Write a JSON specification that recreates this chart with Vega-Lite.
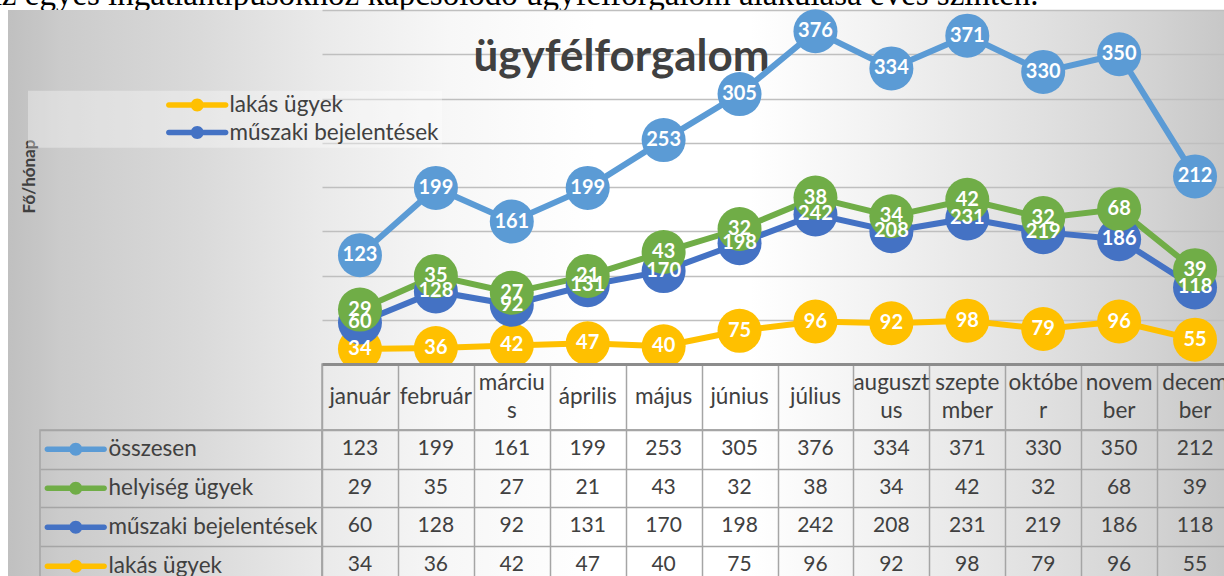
{
  "$schema": "https://vega.github.io/schema/vega-lite/v6.json",
  "padding": 0,
  "background": "white",
  "config": {"view": {"stroke": null}, "font": "Lato"},
  "datasets": {
    "adat": [
      {"honap": "január", "sorozat": "lakás ügyek", "ertek": 34},
      {"honap": "február", "sorozat": "lakás ügyek", "ertek": 36},
      {"honap": "március", "sorozat": "lakás ügyek", "ertek": 42},
      {"honap": "április", "sorozat": "lakás ügyek", "ertek": 47},
      {"honap": "május", "sorozat": "lakás ügyek", "ertek": 40},
      {"honap": "június", "sorozat": "lakás ügyek", "ertek": 75},
      {"honap": "július", "sorozat": "lakás ügyek", "ertek": 96},
      {"honap": "augusztus", "sorozat": "lakás ügyek", "ertek": 92},
      {"honap": "szeptember", "sorozat": "lakás ügyek", "ertek": 98},
      {"honap": "október", "sorozat": "lakás ügyek", "ertek": 79},
      {"honap": "november", "sorozat": "lakás ügyek", "ertek": 96},
      {"honap": "december", "sorozat": "lakás ügyek", "ertek": 55},
      {"honap": "január", "sorozat": "műszaki bejelentések", "ertek": 60},
      {"honap": "február", "sorozat": "műszaki bejelentések", "ertek": 128},
      {"honap": "március", "sorozat": "műszaki bejelentések", "ertek": 92},
      {"honap": "április", "sorozat": "műszaki bejelentések", "ertek": 131},
      {"honap": "május", "sorozat": "műszaki bejelentések", "ertek": 170},
      {"honap": "június", "sorozat": "műszaki bejelentések", "ertek": 198},
      {"honap": "július", "sorozat": "műszaki bejelentések", "ertek": 242},
      {"honap": "augusztus", "sorozat": "műszaki bejelentések", "ertek": 208},
      {"honap": "szeptember", "sorozat": "műszaki bejelentések", "ertek": 231},
      {"honap": "október", "sorozat": "műszaki bejelentések", "ertek": 219},
      {"honap": "november", "sorozat": "műszaki bejelentések", "ertek": 186},
      {"honap": "december", "sorozat": "műszaki bejelentések", "ertek": 118},
      {"honap": "január", "sorozat": "helyiség ügyek", "ertek": 29},
      {"honap": "február", "sorozat": "helyiség ügyek", "ertek": 35},
      {"honap": "március", "sorozat": "helyiség ügyek", "ertek": 27},
      {"honap": "április", "sorozat": "helyiség ügyek", "ertek": 21},
      {"honap": "május", "sorozat": "helyiség ügyek", "ertek": 43},
      {"honap": "június", "sorozat": "helyiség ügyek", "ertek": 32},
      {"honap": "július", "sorozat": "helyiség ügyek", "ertek": 38},
      {"honap": "augusztus", "sorozat": "helyiség ügyek", "ertek": 34},
      {"honap": "szeptember", "sorozat": "helyiség ügyek", "ertek": 42},
      {"honap": "október", "sorozat": "helyiség ügyek", "ertek": 32},
      {"honap": "november", "sorozat": "helyiség ügyek", "ertek": 68},
      {"honap": "december", "sorozat": "helyiség ügyek", "ertek": 39},
      {"honap": "január", "sorozat": "összesen", "ertek": 123},
      {"honap": "február", "sorozat": "összesen", "ertek": 199},
      {"honap": "március", "sorozat": "összesen", "ertek": 161},
      {"honap": "április", "sorozat": "összesen", "ertek": 199},
      {"honap": "május", "sorozat": "összesen", "ertek": 253},
      {"honap": "június", "sorozat": "összesen", "ertek": 305},
      {"honap": "július", "sorozat": "összesen", "ertek": 376},
      {"honap": "augusztus", "sorozat": "összesen", "ertek": 334},
      {"honap": "szeptember", "sorozat": "összesen", "ertek": 371},
      {"honap": "október", "sorozat": "összesen", "ertek": 330},
      {"honap": "november", "sorozat": "összesen", "ertek": 350},
      {"honap": "december", "sorozat": "összesen", "ertek": 212}
    ],
    "felirat": [{"szoveg": "Az egyes ingatlantípusokhoz kapcsolódó ügyfélforgalom alakulása éves szinten."}],
    "ures": [{}]
  },
  "resolve": {"legend": {"color": "independent"}},
  "columns": 4,
  "align": "each",
  "spacing": 0,
  "bounds": "flush",
  "concat": [
    {"width": 8, "height": 10, "view": {"fill": "white"}, "data": {"name": "felirat"}, "mark": {"type": "text", "clip": true, "align": "left", "baseline": "alphabetic", "font": "Liberation Serif", "fontSize": 33, "color": "black", "dx": -26}, "encoding": {"text": {"field": "szoveg", "type": "nominal"}}},
    {"width": 32, "height": 10, "view": {"fill": "white"}, "data": {"name": "felirat"}, "mark": {"type": "text", "clip": true, "align": "left", "baseline": "alphabetic", "font": "Liberation Serif", "fontSize": 33, "color": "black", "dx": -46}, "encoding": {"text": {"field": "szoveg", "type": "nominal"}}},
    {"width": 282, "height": 10, "view": {"fill": "white"}, "data": {"name": "felirat"}, "mark": {"type": "text", "clip": true, "align": "left", "baseline": "alphabetic", "font": "Liberation Serif", "fontSize": 33, "color": "black", "dx": -203}, "encoding": {"text": {"field": "szoveg", "type": "nominal"}}},
    {"width": 911, "height": 10, "view": {"fill": "white"}, "data": {"name": "felirat"}, "mark": {"type": "text", "clip": true, "align": "left", "baseline": "alphabetic", "font": "Liberation Serif", "fontSize": 33, "color": "black", "dx": -799.5}, "encoding": {"text": {"field": "szoveg", "type": "nominal"}}},

    {"width": 8, "height": 354, "view": {"fill": "white"}, "data": {"name": "ures"}, "mark": {"type": "point", "opacity": 0}},
    {"width": 32, "height": 354, "view": {"fill": {"gradient": "linear", "x1": 0, "y1": 0, "x2": 1, "y2": 0, "stops": [{"offset": 0, "color": "#c0c0c0"}, {"offset": 1, "color": "#c6c6c6"}]}}, "data": {"name": "ures"}, "mark": {"type": "point", "opacity": 0}},
    {"width": 282, "height": 354, "view": {"fill": {"gradient": "linear", "x1": 0, "y1": 0, "x2": 1, "y2": 0, "stops": [{"offset": 0, "color": "#c6c6c6"}, {"offset": 0.07, "color": "#cbcbcb"}, {"offset": 0.57, "color": "#dadada"}, {"offset": 1, "color": "#eaeaea"}]}}, "data": {"name": "ures"}, "mark": {"type": "point", "opacity": 0}},
    {
      "width": 911, "height": 354,
      "view": {"fill": {"gradient": "linear", "x1": 0, "y1": 0, "x2": 1, "y2": 0, "stops": [{"offset": 0, "color": "#eaeaea"}, {"offset": 0.14, "color": "#f7f7f7"}, {"offset": 0.3, "color": "#ffffff"}, {"offset": 0.47, "color": "#ffffff"}, {"offset": 0.63, "color": "#f0f0f0"}, {"offset": 0.8, "color": "#dfdfdf"}, {"offset": 0.91, "color": "#d3d3d3"}, {"offset": 1, "color": "#c6c6c6"}]}},
      "data": {"name": "adat"},
      "transform": [
        {"calculate": "indexof(['lakás ügyek','műszaki bejelentések','helyiség ügyek','összesen'], datum.sorozat)", "as": "rend"},
        {"stack": "ertek", "groupby": ["honap"], "sort": [{"field": "rend", "order": "ascending"}], "as": ["also", "felso"]}
      ],
      "encoding": {
        "x": {"field": "honap", "type": "ordinal", "sort": ["január", "február", "március", "április", "május", "június", "július", "augusztus", "szeptember", "október", "november", "december"], "axis": {"orient": "top", "labels": false, "ticks": false, "domain": false, "grid": false, "title": "ügyfélforgalom", "titleX": 151, "titleY": 60.7, "titleAlign": "left", "titleBaseline": "alphabetic", "titleFont": "Lato", "titleFontSize": 44, "titleFontWeight": "bold", "titleColor": "#404040"}},
        "y": {"field": "felso", "type": "quantitative", "scale": {"domain": [0, 800], "nice": false}, "axis": {"values": [100, 200, 300, 400, 500, 600, 700, 800], "grid": true, "gridColor": "#bfbfbf", "gridWidth": 1.5, "labels": false, "ticks": false, "domain": false, "title": "Fő/hónap", "titleX": -293, "titleY": 166, "titleAngle": -90, "titleAlign": "center", "titleBaseline": "middle", "titleFont": "Lato", "titleFontSize": 17, "titleFontWeight": "bold", "titleColor": "#404040"}}
      },
      "layer": [
        {
          "mark": {"type": "line", "strokeWidth": 6},
          "encoding": {"stroke": {"field": "sorozat", "type": "nominal", "scale": {"domain": ["összesen", "helyiség ügyek", "műszaki bejelentések", "lakás ügyek"], "range": ["#5b9bd5", "#70ad47", "#4472c4", "#ffc000"]}, "legend": null}}
        },
        {
          "mark": {"type": "point", "filled": true, "size": 1936, "opacity": 1, "strokeWidth": 0},
          "encoding": {"color": {"field": "sorozat", "type": "nominal", "scale": {"domain": ["összesen", "helyiség ügyek", "műszaki bejelentések", "lakás ügyek"], "range": ["#5b9bd5", "#70ad47", "#4472c4", "#ffc000"]},
            "legend": {"orient": "none", "legendX": -294, "legendY": 80.75, "direction": "vertical", "values": ["lakás ügyek", "műszaki bejelentések"], "title": "\u00a0", "titleOrient": "left", "titleFontSize": 1, "titlePadding": 155, "fillColor": "rgba(255,255,255,0.35)", "padding": 3, "symbolType": "M-2.85,-0.27H2.85A0.27,0.27,0,0,1,2.85,0.27H-2.85A0.27,0.27,0,0,1,-2.85,-0.27ZM-0.65,0A0.65,0.65,0,1,1,0.65,0A0.65,0.65,0,1,1,-0.65,0Z", "symbolSize": 400, "symbolStrokeWidth": 0, "symbolOpacity": 1, "labelOffset": 21, "rowPadding": 4.5, "labelFont": "Lato", "labelFontSize": 22.5, "labelColor": "#404040", "labelLimit": 600}}}
        },
        {
          "mark": {"type": "text", "color": "white", "fontWeight": "bold", "fontSize": 20, "font": "Lato"},
          "encoding": {"text": {"field": "ertek", "type": "quantitative"}}
        }
      ]
    },

    {"width": 8, "height": 66, "view": {"fill": "white"}, "data": {"name": "ures"}, "mark": {"type": "point", "opacity": 0}},
    {"width": 32, "height": 66, "view": {"fill": {"gradient": "linear", "x1": 0, "y1": 0, "x2": 1, "y2": 0, "stops": [{"offset": 0, "color": "#c0c0c0"}, {"offset": 1, "color": "#c6c6c6"}]}}, "data": {"name": "ures"}, "mark": {"type": "point", "opacity": 0}},
    {"width": 282, "height": 66, "view": {"fill": {"gradient": "linear", "x1": 0, "y1": 0, "x2": 1, "y2": 0, "stops": [{"offset": 0, "color": "#c6c6c6"}, {"offset": 0.07, "color": "#cbcbcb"}, {"offset": 0.57, "color": "#dadada"}, {"offset": 1, "color": "#eaeaea"}]}}, "data": {"name": "ures"}, "mark": {"type": "point", "opacity": 0}},
    {
      "width": 911, "height": 66,
      "view": {"stroke": "#a5a5a5", "strokeWidth": 1.5, "fill": {"gradient": "linear", "x1": 0, "y1": 0, "x2": 1, "y2": 0, "stops": [{"offset": 0, "color": "#eaeaea"}, {"offset": 0.14, "color": "#f7f7f7"}, {"offset": 0.3, "color": "#ffffff"}, {"offset": 0.47, "color": "#ffffff"}, {"offset": 0.63, "color": "#f0f0f0"}, {"offset": 0.8, "color": "#dfdfdf"}, {"offset": 0.91, "color": "#d3d3d3"}, {"offset": 1, "color": "#c6c6c6"}]}},
      "data": {"name": "adat"},
      "transform": [
        {"filter": "datum.sorozat === 'összesen'"},
        {"calculate": "datum.honap === 'március' ? 'márciu|s' : datum.honap === 'augusztus' ? 'auguszt|us' : datum.honap === 'szeptember' ? 'szepte|mber' : datum.honap === 'október' ? 'októbe|r' : datum.honap === 'november' ? 'novem|ber' : datum.honap === 'december' ? 'decem|ber' : datum.honap", "as": "felirat"}
      ],
      "encoding": {
        "x": {"field": "honap", "type": "ordinal", "sort": ["január", "február", "március", "április", "május", "június", "július", "augusztus", "szeptember", "október", "november", "december"], "scale": {"type": "band", "paddingInner": 0, "paddingOuter": 0}, "axis": {"orient": "top", "title": null, "labels": false, "ticks": false, "domain": true, "domainColor": "#8c8c8c", "domainWidth": 3, "grid": true, "gridColor": "#a5a5a5", "gridWidth": 1.5, "tickBand": "extent"}},
        "text": {"field": "felirat", "type": "nominal"}
      },
      "layer": [
        {"transform": [{"filter": "indexof(datum.felirat, '|') < 0"}], "mark": {"type": "text", "fontSize": 22.5, "color": "#404040", "font": "Lato"}},
        {"transform": [{"filter": "indexof(datum.felirat, '|') >= 0"}], "mark": {"type": "text", "lineBreak": "|", "lineHeight": 28, "dy": -14, "fontSize": 22.5, "color": "#404040", "font": "Lato"}}
      ]
    },

    {"width": 8, "height": 154, "view": {"fill": "white"}, "data": {"name": "ures"}, "mark": {"type": "point", "opacity": 0}},
    {"width": 32, "height": 154, "view": {"fill": {"gradient": "linear", "x1": 0, "y1": 0, "x2": 1, "y2": 0, "stops": [{"offset": 0, "color": "#c0c0c0"}, {"offset": 1, "color": "#c6c6c6"}]}}, "data": {"name": "ures"}, "mark": {"type": "point", "opacity": 0}},
    {
      "width": 282, "height": 154,
      "view": {"stroke": "#a5a5a5", "strokeWidth": 1.5, "fill": {"gradient": "linear", "x1": 0, "y1": 0, "x2": 1, "y2": 0, "stops": [{"offset": 0, "color": "#c6c6c6"}, {"offset": 0.07, "color": "#cbcbcb"}, {"offset": 0.57, "color": "#dadada"}, {"offset": 1, "color": "#eaeaea"}]}},
      "data": {"name": "adat"},
      "mark": {"type": "point", "filled": true, "opacity": 0},
      "encoding": {
        "y": {"field": "sorozat", "type": "nominal", "sort": ["összesen", "helyiség ügyek", "műszaki bejelentések", "lakás ügyek"], "scale": {"type": "band", "paddingInner": 0, "paddingOuter": 0}, "axis": {"title": null, "labels": false, "ticks": false, "domain": false, "grid": true, "gridColor": "#a5a5a5", "gridWidth": 1.5, "tickBand": "extent"}},
        "color": {"field": "sorozat", "type": "nominal", "scale": {"domain": ["összesen", "helyiség ügyek", "műszaki bejelentések", "lakás ügyek"], "range": ["#5b9bd5", "#70ad47", "#4472c4", "#ffc000"]},
          "legend": {"orient": "none", "legendX": 24.5, "legendY": 8, "direction": "vertical", "padding": 0, "title": null, "symbolType": "M-2.85,-0.27H2.85A0.27,0.27,0,0,1,2.85,0.27H-2.85A0.27,0.27,0,0,1,-2.85,-0.27ZM-0.65,0A0.65,0.65,0,1,1,0.65,0A0.65,0.65,0,1,1,-0.65,0Z", "symbolSize": 400, "symbolStrokeWidth": 0, "symbolOpacity": 1, "labelOffset": 21.5, "rowPadding": 16, "labelFont": "Lato", "labelFontSize": 22.5, "labelColor": "#404040", "labelLimit": 300}}
      }
    },
    {
      "width": 911, "height": 154,
      "view": {"stroke": "#a5a5a5", "strokeWidth": 1.5, "fill": {"gradient": "linear", "x1": 0, "y1": 0, "x2": 1, "y2": 0, "stops": [{"offset": 0, "color": "#eaeaea"}, {"offset": 0.14, "color": "#f7f7f7"}, {"offset": 0.3, "color": "#ffffff"}, {"offset": 0.47, "color": "#ffffff"}, {"offset": 0.63, "color": "#f0f0f0"}, {"offset": 0.8, "color": "#dfdfdf"}, {"offset": 0.91, "color": "#d3d3d3"}, {"offset": 1, "color": "#c6c6c6"}]}},
      "data": {"name": "adat"},
      "mark": {"type": "text", "fontSize": 21, "color": "#404040", "font": "Lato"},
      "encoding": {
        "x": {"field": "honap", "type": "ordinal", "sort": ["január", "február", "március", "április", "május", "június", "július", "augusztus", "szeptember", "október", "november", "december"], "scale": {"type": "band", "paddingInner": 0, "paddingOuter": 0}, "axis": {"orient": "top", "title": null, "labels": false, "ticks": false, "domain": false, "grid": true, "gridColor": "#a5a5a5", "gridWidth": 1.5, "tickBand": "extent"}},
        "y": {"field": "sorozat", "type": "nominal", "sort": ["összesen", "helyiség ügyek", "műszaki bejelentések", "lakás ügyek"], "scale": {"type": "band", "paddingInner": 0, "paddingOuter": 0}, "axis": {"title": null, "labels": false, "ticks": false, "domain": false, "grid": true, "gridColor": "#a5a5a5", "gridWidth": 1.5, "tickBand": "extent"}},
        "text": {"field": "ertek", "type": "quantitative"}
      }
    }
  ]
}
